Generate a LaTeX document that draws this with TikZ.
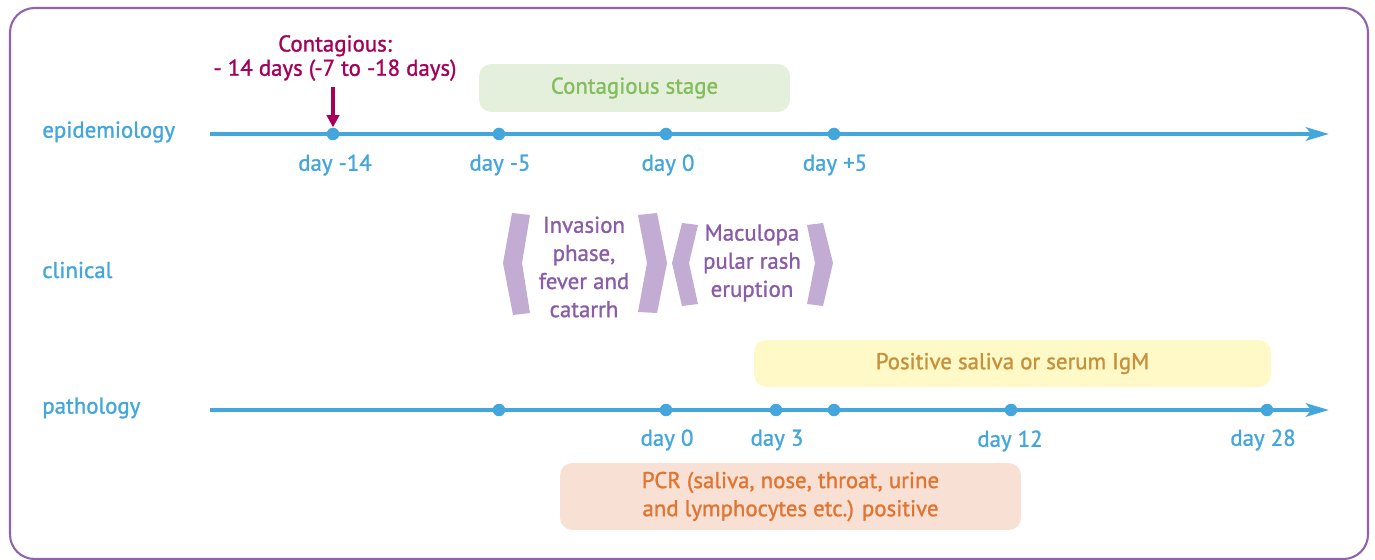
\documentclass[tikz,border=0pt]{standalone}
\usepackage{fontspec}
\setmainfont{PT Sans}[FakeBold=1.2]
\usetikzlibrary{arrows.meta,positioning}

\definecolor{lineblue}{HTML}{43A6DD}
\definecolor{contagred}{HTML}{A6005B}
\definecolor{stagefill}{HTML}{E5F0DC}
\definecolor{stagetext}{HTML}{84BC5E}
\definecolor{phasefill}{HTML}{C3ACD4}
\definecolor{phasetext}{HTML}{8B5CA8}
\definecolor{igmfill}{HTML}{FFF9C8}
\definecolor{igmtext}{HTML}{C7913B}
\definecolor{pcrfill}{HTML}{F8E1D4}
\definecolor{pcrtext}{HTML}{E07430}
\definecolor{framecol}{HTML}{9163AE}

\begin{document}
\begin{tikzpicture}[
x=0.02cm,y=-0.02cm,
font=\fontsize{13}{15.5}\selectfont,
axis/.style={
line width=2.8pt,
draw=lineblue,
-{Stealth[length=13pt,width=7.5pt,inset=3pt]}
},
dot/.style={
circle,
fill=lineblue,
inner sep=0pt,
minimum size=0.25cm
},
rowlabel/.style={anchor=west,text=lineblue,inner sep=0pt},
daylabel/.style={text=lineblue},
stagebox/.style={
rounded corners=7pt,
inner sep=0pt,
align=center
},
phase/.style={fill=phasefill},
phasetxt/.style={text=phasetext,align=center}
]

\useasboundingbox (0,0) rectangle (1375,560);
\draw[framecol,line width=1.2pt,rounded corners=14pt] (10,8) rectangle (1368,559);

% row labels
\node[rowlabel] (epi) at (42,132) {epidemiology};
\node[rowlabel] (cli) at (42,270) {clinical};
\node[rowlabel] (pat) at (42,408) {pathology};

% epidemiology axis
\coordinate (ea) at (210,134);
\coordinate (eb) at (1329,134);
\draw[axis] (ea) -- (eb);
\node[dot] (e14) at (333,134) {};
\node[dot] (e5) at (499,134) {};
\node[dot] (e0) at (666,134) {};
\node[dot] (ep5) at (834,134) {};
\node[daylabel] (le14) at (335,165) {day -14};
\node[daylabel] (le5) at (500,165) {day -5};
\node[daylabel] (le0) at (668,165) {day 0};
\node[daylabel] (lep5) at (835,165) {day +5};

\node[stagebox,fill=stagefill,text=stagetext,minimum width=6.22cm,minimum height=0.96cm] (stage) at (634.5,88) {Contagious stage};

\node[text=contagred,align=center,font=\fontsize{13}{13.8}\selectfont] (contag) at (335,58) {Contagious:\\- 14 days (-7 to -18 days)};
\draw[contagred,line width=1.8pt,-{Triangle[length=7pt,width=7pt]}] (contag.south -| e14) -- (e14.north);

% clinical phases
\fill[phase] (512,213) -- (530,215) -- (522,263) -- (530,313) -- (513,315) -- (503,263) -- cycle;
\fill[phase] (638,215) -- (657,213) -- (667,263) -- (657,313) -- (638,312) -- (647,263) -- cycle;
\fill[phase] (682,223) -- (698,225) -- (689,263) -- (698,304) -- (682,306) -- (672,263) -- cycle;
\fill[phase] (807,225) -- (823,223) -- (833,263) -- (823,306) -- (807,304) -- (815,263) -- cycle;
\node[phasetxt,font=\fontsize{13}{16}\selectfont] (inv) at (584,267) {Invasion\\phase,\\fever and\\catarrh};
\node[phasetxt,font=\fontsize{13}{16}\selectfont] (mac) at (752,263) {Maculopa\\pular rash\\eruption};

% pathology axis
\coordinate (pa) at (210,410);
\coordinate (pb) at (1329,410);
\draw[axis] (pa) -- (pb);
\node[dot] (p5) at (499,410) {};
\node[dot] (p0) at (666,410) {};
\node[dot] (p3) at (776,410) {};
\node[dot] (pp5) at (834,410) {};
\node[dot] (p12) at (1011,410) {};
\node[dot] (p28) at (1267,410) {};
\node[daylabel] (lp0) at (667,440) {day 0};
\node[daylabel] (lp3) at (777,440) {day 3};
\node[daylabel] (lp12) at (1010,441) {day 12};
\node[daylabel] (lp28) at (1263,440) {day 28};

\node[stagebox,fill=igmfill,text=igmtext,minimum width=10.34cm,minimum height=0.94cm] (igm) at (1012.5,363.5) {Positive saliva or serum IgM};
\node[stagebox,fill=pcrfill,text=pcrtext,minimum width=9.22cm,minimum height=1.34cm,font=\fontsize{13}{16}\selectfont] (pcr) at (790.5,496.5) {PCR (saliva, nose, throat, urine\\and lymphocytes etc.) positive};

\end{tikzpicture}
\end{document}
